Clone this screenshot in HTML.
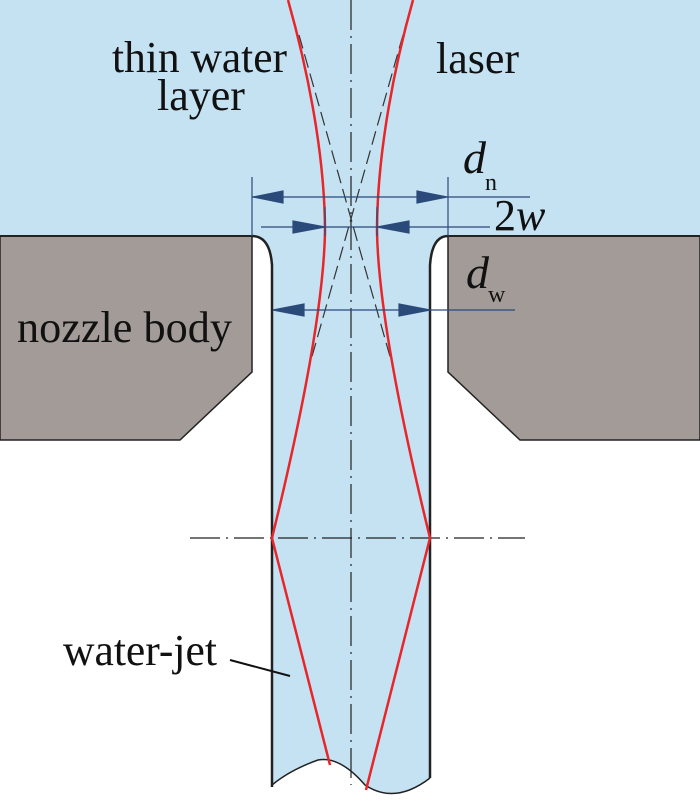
<!DOCTYPE html>
<html><head><style>body{margin:0}svg{display:block}</style></head><body>
<svg width="700" height="801" xmlns="http://www.w3.org/2000/svg" font-family="Liberation Serif, serif">
<rect width="700" height="801" fill="#fff"/>
<rect width="700" height="236" fill="#c5e2f3"/>
<path d="M0 236 H252 V372 L180 440 H0 Z" fill="#a29b98" stroke="#222" stroke-width="1.5"/>
<path d="M700 236 H448 V372 L520 440 H700 Z" fill="#a29b98" stroke="#222" stroke-width="1.5"/>
<path d="M252 236 Q270 236 272 265 V785 Q290 770 318 760 Q340 756 365 785 Q395 805 430 778 V265 Q432 236 448 236 Z" fill="#c5e2f3"/>
<path d="M252 236 Q270 236 272 265 V787" fill="none" stroke="#222" stroke-width="2.5"/>
<path d="M448 236 Q432 236 430 265 V778" fill="none" stroke="#222" stroke-width="2.5"/>
<path d="M272 785 Q290 770 318 760 Q340 756 365 785 Q395 805 430 778" fill="none" stroke="#222" stroke-width="1.5"/>
<line x1="0" y1="236" x2="252" y2="236" stroke="#222" stroke-width="2"/>
<line x1="448" y1="236" x2="700" y2="236" stroke="#222" stroke-width="2"/>
<line x1="351" y1="0" x2="351" y2="785" stroke="#222" stroke-width="1.2" stroke-dasharray="30,6,2,6"/>
<line x1="190" y1="538" x2="525" y2="538" stroke="#222" stroke-width="1.2" stroke-dasharray="30,6,2,6"/>
<line x1="299" y1="35" x2="391" y2="360" stroke="#333" stroke-width="1.2" stroke-dasharray="14,6"/>
<line x1="403" y1="35" x2="311" y2="360" stroke="#333" stroke-width="1.2" stroke-dasharray="14,6"/>
<path d="M288 0 C305 60 325 150 325 232 Q323 330 272 538 L330 765" fill="none" stroke="#e8262a" stroke-width="2.5"/>
<path d="M413 0 C396 60 377 150 377 232 Q379 330 430 538 L366 790" fill="none" stroke="#e8262a" stroke-width="2.5"/>
<g stroke="#2a4a7a" stroke-width="1.2" fill="#2a4a7a">
<line x1="252" y1="177" x2="252" y2="236"/><line x1="448" y1="177" x2="448" y2="236"/>
<line x1="325" y1="207" x2="325" y2="236"/><line x1="377" y1="207" x2="377" y2="236"/>
<line x1="252" y1="197" x2="530" y2="197"/>
<path d="M253 197 L283 191 L283 203 Z"/><path d="M447 197 L417 191 L417 203 Z"/>
<line x1="261" y1="227" x2="490" y2="227"/>
<path d="M325 227 L293 221 L293 233 Z"/><path d="M377 227 L409 221 L409 233 Z"/>
<line x1="273" y1="310" x2="515" y2="310"/>
<path d="M273 310 L304 304 L304 316 Z"/><path d="M430 310 L399 304 L399 316 Z"/>
</g>
<line x1="230" y1="660" x2="290" y2="676" stroke="#111" stroke-width="2"/>
<g font-size="44" fill="#111">
<text x="112" y="72" textLength="175" lengthAdjust="spacingAndGlyphs">thin water</text>
<text x="157" y="110">layer</text>
<text x="436" y="73">laser</text>
<text x="17" y="342" textLength="215" lengthAdjust="spacingAndGlyphs">nozzle body</text>
<text x="63" y="665" textLength="154" lengthAdjust="spacingAndGlyphs">water-jet</text>
<text x="463" y="173" font-style="italic" font-size="46">d</text><text x="485" y="190" font-size="24">n</text>
<text x="494" y="230" font-size="44">2<tspan font-style="italic">w</tspan></text>
<text x="466" y="288" font-style="italic" font-size="46">d</text><text x="488" y="302" font-size="24">w</text>
</g>
</svg>
</body></html>
